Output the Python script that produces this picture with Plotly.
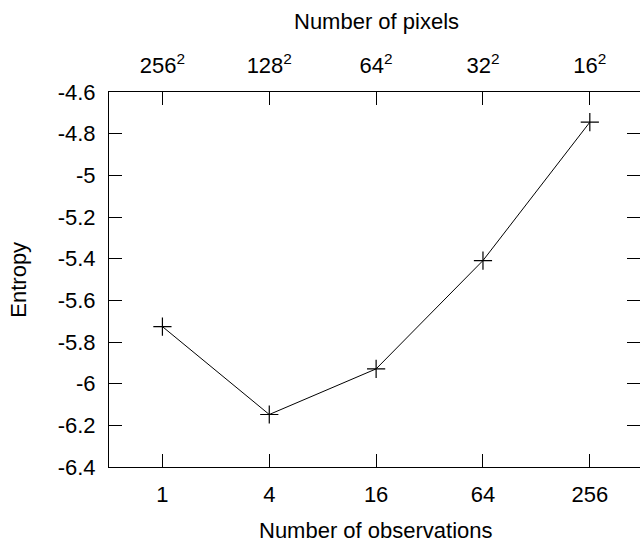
import math
import plotly.graph_objects as go

observations = [1, 4, 16, 64, 256]
entropy = [-5.726, -6.148, -5.929, -5.409, -4.745]
pixel_labels = ["256<sup>2</sup>", "128<sup>2</sup>", "64<sup>2</sup>", "32<sup>2</sup>", "16<sup>2</sup>"]
y_ticks = [-4.6, -4.8, -5.0, -5.2, -5.4, -5.6, -5.8, -6.0, -6.2, -6.4]
y_tick_text = ["-4.6", "-4.8", "-5", "-5.2", "-5.4", "-5.6", "-5.8", "-6", "-6.2", "-6.4"]

FONT = dict(family="Liberation Sans, Arial, sans-serif", size=22, color="black")
xr = [math.log10(0.5), 2.691]
yr = [-6.4, -4.6]

fig = go.Figure()
fig.add_trace(go.Scatter(
    x=observations, y=entropy, mode="lines+markers",
    line=dict(color="black", width=1),
    marker=dict(symbol="cross-thin", size=13, line=dict(color="black", width=1.2)),
    showlegend=False, hoverinfo="skip",
))
fig.add_trace(go.Scatter(x=observations, y=entropy, xaxis="x2", yaxis="y2",
                         mode="markers", marker=dict(opacity=0), showlegend=False, hoverinfo="skip"))

fig.update_layout(
    width=640, height=542,
    margin=dict(l=109, r=0, t=92, b=75),
    paper_bgcolor="white", plot_bgcolor="white",
    font=FONT,
    xaxis=dict(type="log", range=xr, tickvals=observations, ticktext=[str(v) for v in observations],
               ticks="inside", ticklen=13, tickwidth=1, tickcolor="black",
               showline=True, linecolor="black", linewidth=1, showgrid=False, zeroline=False,
               ticklabelstandoff=8, tickfont=FONT),
    xaxis2=dict(type="log", range=xr, overlaying="x", side="top", anchor="y",
                tickvals=observations, ticktext=pixel_labels,
                ticks="inside", ticklen=13, tickwidth=1, tickcolor="black",
                showline=True, linecolor="black", linewidth=1, showgrid=False, zeroline=False,
                ticklabelstandoff=9, tickfont=FONT),
    yaxis=dict(range=yr, tickvals=y_ticks, ticktext=y_tick_text,
               ticks="inside", ticklen=13, tickwidth=1, tickcolor="black",
               showline=True, linecolor="black", linewidth=1, showgrid=False, zeroline=False,
               ticklabelstandoff=8, tickfont=FONT),
    yaxis2=dict(range=yr, overlaying="y", side="right", anchor="x", tickvals=y_ticks,
                ticks="inside", ticklen=13, tickwidth=1, tickcolor="black",
                showticklabels=False, showline=False, showgrid=False, zeroline=False),
    annotations=[
        dict(text="Number of observations", xref="paper", yref="paper", x=0.5034, y=-0.17,
             xanchor="center", yanchor="middle", showarrow=False, font=FONT),
        dict(text="Number of pixels", xref="paper", yref="paper", x=0.5034, y=1.187,
             xanchor="center", yanchor="middle", showarrow=False, font=FONT),
        dict(text="Entropy", xref="paper", yref="paper", x=-0.171, y=0.5, textangle=-90,
             xanchor="center", yanchor="middle", showarrow=False, font=FONT),
    ],
)

fig.write_html("out.html")
